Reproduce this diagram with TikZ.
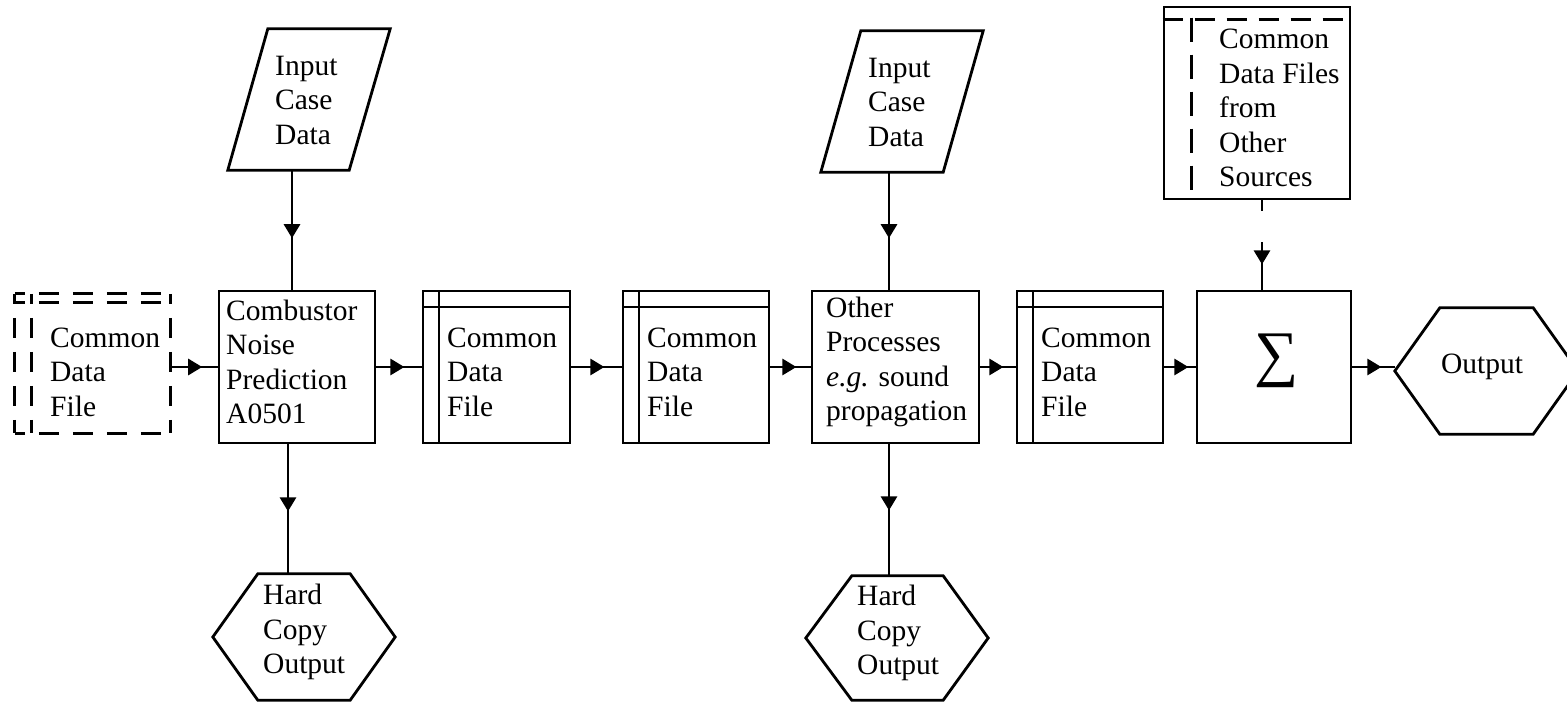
\documentclass[tikz,border=0pt]{standalone}
\usepackage{fontspec}
\setmainfont{Liberation Serif}
\usetikzlibrary{arrows.meta,decorations.markings,calc}

\tikzset{
  lw/.style={line width=2.8pt},
  box/.style={draw, line width=2.8pt, rectangle, inner sep=0pt},
  frame/.style={rectangle, inner sep=0pt},
  txt/.style={font=\fontsize{29.5}{34.5}\selectfont, align=left, inner sep=0pt, anchor=west},
  flow/.style={line width=2.8pt, postaction={decorate},
    decoration={markings, mark=at position #1 with {\arrow[solid]{Triangle[length=14pt,width=16pt]}}}},
  dashline/.style={line width=2.8pt, dash pattern=on 20pt off 14pt},
  filebox/.style={box, path picture={
      \draw[lw] ([xshift=16pt]path picture bounding box.north west) -- ([xshift=16pt]path picture bounding box.south west);
      \draw[lw] ([yshift=-16pt]path picture bounding box.north west) -- ([yshift=-16pt]path picture bounding box.north east);}},
}

\begin{document}
\begin{tikzpicture}[x=1pt, y=-1pt]
\useasboundingbox (0,0) rectangle (1567,704);
\fill[white] (0,0) rectangle (1567,704);
\clip (0,0) rectangle (1567,704);

% ---- main row of boxes ----
\node[frame, minimum width=155pt, minimum height=139pt] (cdf0) at (92.5,363.5) {};
\draw[dashline, dash phase=10pt] (cdf0.north west) -- (cdf0.north east);
\draw[dashline, dash phase=10pt] (cdf0.south west) -- (cdf0.south east);
\draw[dashline, dash phase=10pt] (cdf0.north west) -- (cdf0.south west);
\draw[dashline, dash phase=10pt] (cdf0.north east) -- (cdf0.south east);
\draw[dashline, dash phase=10pt] ([xshift=17pt]cdf0.north west) -- ([xshift=17pt]cdf0.south west);
\draw[dashline, dash phase=10pt] ([yshift=-9pt]cdf0.north west) -- ([yshift=-9pt]cdf0.north east);

\node[box, minimum width=156pt, minimum height=152pt] (comb) at (297,367) {};
\node[filebox, minimum width=147pt, minimum height=152pt] (cdf1) at (496.5,367) {};
\node[filebox, minimum width=146pt, minimum height=152pt] (cdf2) at (696,367) {};
\node[box, minimum width=167pt, minimum height=152pt] (other) at (895.5,367) {};
\node[filebox, minimum width=146pt, minimum height=152pt] (cdf3) at (1090,367) {};
\node[box, minimum width=154pt, minimum height=152pt] (sigma) at (1274,367) {};

% ---- other sources (solid frame, dashed inner rules) ----
\node[box, minimum width=186pt, minimum height=192pt] (src) at (1257,103) {};
\draw[lw, dash pattern=on 20pt off 12pt] ([yshift=-14pt]src.north west) -- ([yshift=-14pt]src.north east);
\draw[lw, dash pattern=on 24pt off 13pt, dash phase=-12pt] ([xshift=29pt]src.north west) -- ([xshift=29pt]src.south west);

% ---- input parallelograms ----
\node[frame, minimum width=162pt, minimum height=141pt] (in1) at (309,99.5) {};
\draw[lw] (in1.south west) -- ([xshift=-41pt]in1.south east) -- (in1.north east)
  -- ([xshift=40pt]in1.north west) -- cycle;
\node[frame, minimum width=162pt, minimum height=141pt] (in2) at (902,101.5) {};
\draw[lw] (in2.south west) -- ([xshift=-40pt]in2.south east) -- (in2.north east)
  -- ([xshift=40pt]in2.north west) -- cycle;

% ---- hexagonal outputs ----
\node[frame, minimum width=182pt, minimum height=126pt] (hard1) at (304,637) {};
\draw[lw] (hard1.west) -- ([xshift=45pt]hard1.north west) -- ([xshift=-45pt]hard1.north east)
  -- (hard1.east) -- ([xshift=-45pt]hard1.south east) -- ([xshift=45pt]hard1.south west) -- cycle;
\node[frame, minimum width=182pt, minimum height=124pt] (hard2) at (897,638) {};
\draw[lw] (hard2.west) -- ([xshift=46pt]hard2.north west) -- ([xshift=-45pt]hard2.north east)
  -- (hard2.east) -- ([xshift=-45pt]hard2.south east) -- ([xshift=46pt]hard2.south west) -- cycle;
\node[frame, minimum width=183pt, minimum height=126pt] (out) at (1486.5,371) {};
\draw[lw] (out.west) -- ([xshift=45pt]out.north west) -- ([xshift=-45pt]out.north east)
  -- (out.east) -- ([xshift=-45pt]out.south east) -- ([xshift=45pt]out.south west) -- cycle;

% ---- labels ----
\node[txt] (t0) at (50,372) {Common\\Data\\File};
\node[txt] (tcomb) at (226,362) {Combustor\\Noise\\Prediction\\A0501};
\node[txt] (t1) at (447,372) {Common\\Data\\File};
\node[txt] (t2) at (647,372) {Common\\Data\\File};
\node[txt] (tother) at (826,362) {Other\\Processes\\\textit{e.g.} sound\\propagation};
\node[txt] (t3) at (1041,372) {Common\\Data\\File};
\node[txt] (tin1) at (275,100) {Input\\Case\\Data};
\node[txt] (tin2) at (868,102) {Input\\Case\\Data};
\node[txt] (tsrc) at (1219,108) {Common\\Data Files\\from\\Other\\Sources};
\node[txt] (thard1) at (263,632) {Hard\\Copy\\Output};
\node[txt] (thard2) at (857,633) {Hard\\Copy\\Output};
\node[txt, anchor=center] (tout) at (1482,367) {Output};
\node[inner sep=0pt, font=\fontsize{62}{62}\selectfont] (tsum) at (1277,361) {∑};

% ---- connectors ----
\draw[flow=32pt] (cdf0.east |- comb.west) -- (comb.west);
\draw[flow=28pt] (comb.east) -- (cdf1.west);
\draw[flow=33pt] (cdf1.east) -- (cdf2.west);
\draw[flow=26pt] (cdf2.east) -- (other.west);
\draw[flow=23pt] (other.east) -- (cdf3.west);
\draw[flow=24pt] (cdf3.east) -- (sigma.west);
\draw[flow=29pt] (sigma.east) -- (sigma.east -| out.west);
\draw[flow=68pt] ([xshift=-17pt]in1.south) -- ([xshift=-5pt]comb.north);
\draw[flow=66pt] ([xshift=-13pt]in2.south) -- ([xshift=-6.5pt]other.north);
\draw[flow=67pt] ([xshift=-9pt]comb.south) -- ([xshift=-16pt]hard1.north);
\draw[flow=66pt] ([xshift=-6.5pt]other.south) -- ([xshift=-8pt]hard2.north);
\draw[flow=64pt, dash pattern=on 11pt off 31pt on 60pt] ([xshift=5pt]src.south) -- ([xshift=-12pt]sigma.north);
\end{tikzpicture}
\end{document}
